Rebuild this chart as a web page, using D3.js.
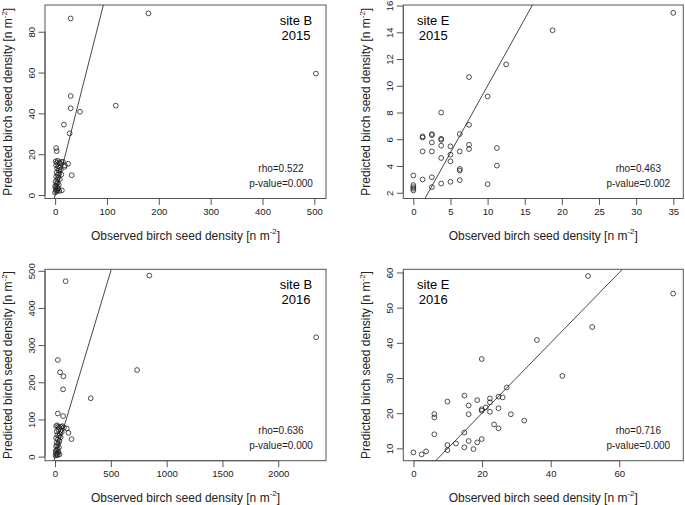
<!DOCTYPE html>
<html><head><meta charset="utf-8">
<script src="https://cdn.jsdelivr.net/npm/d3@7"></script>
<style>
body{margin:0;background:#fff;}
svg{display:block;font-family:"Liberation Sans",Arial,sans-serif;}
</style></head>
<body><svg id="c" width="685" height="505"></svg>
<script>
// ---- data: observed (x) and predicted (y) birch seed density ----
const b2015Obs  = [30,180,503,117,30,30,48,17,28,2,3,25,32,18,15,19,
  1,3,5,8,10,12,2,6,9,4,11,7,3,8,5,12,2,6,4,9,1,5,3,7,2,0,4,6,1,3,5,2,8,13,0];
const b2015Pred = [86.5,89,59.5,43.8,48.5,42.5,40.8,34.5,30.2,23,21.5,15.3,9.7,13.8,16.3,14.5,
  16.5,15.8,16.8,16,15.5,16.2,14.5,14,13.5,13,12.5,12,11,10.5,10,10,9,8.5,7.5,7.8,6.5,6,5.5,5,4.5,4.2,3.8,3.2,3,2.5,2.2,1.8,2,2.3,1.2];

const e2015Obs  = [0,0,0,0,0, 1.25,1.25,1.25,1.25, 2.5,2.5,2.5,2.5,2.5,2.5,
  3.75,3.75,3.75,3.75,3.75,3.75, 5,5,5,5, 6.25,6.25,6.25,6.25,6.25,
  7.5,7.5,7.5,7.5, 10,10, 11.25,11.25, 12.5, 18.75, 35];
const e2015Pred = [3.29,2.57,2.42,2.3,2.17, 6.21,6.13,5.09,2.99, 6.39,6.31,5.76,5.09,3.16,2.42,
  8.0,6.04,5.96,5.52,4.6,2.69, 5.47,4.85,4.35,2.82, 6.39,5.09,3.78,3.66,2.94,
  10.65,7.08,5.59,5.27, 9.2,2.64, 5.35,4.03, 11.6, 14.15, 15.45];

const b2016Obs  = [95,845,2340,735,320,25,45,75,72,25,72,148,120,105,
  10,20,30,40,55,65,80,30,50,15,60,40,20,35,50,10,25,40,15,30,20,10,35,25,15,5,30,20,10,40,25,15,5];
const b2016Pred = [472,487,321,233,157,260,227,216,181,116,109,47,64,76,
  82,84,80,78,80,82,78,72,70,68,66,62,58,55,52,50,46,42,38,35,30,28,25,20,18,15,12,10,8,6,5,4,3];

const e2016Obs  = [0,2.4,3.7,6.1,6.1,6.1,9.9,9.9,9.9,12.4,14.85,14.85,14.85,16.1,16.1,16.1,17.5,18.6,18.6,
  19.9,19.9,19.9,19.9,21.1,22.3,22.3,22.3,23.5,24.8,24.8,24.8,26,27.2,28.4,32.3,36,43.4,50.9,52.1,75.7];
const e2016Pred = [8.86,8.3,9.15,14,19.75,18.8,23.3,10.95,9.5,11.4,25,14.5,10.3,22.2,19.7,12.1,9.8,23.7,11.7,
  35.4,21.1,20.7,12.65,21.65,24.2,23.1,20.4,16.8,24.7,21.4,15.7,24.5,27.3,19.7,17.9,40.8,30.6,59,44.5,54];

const siteLabels = ["site B","site E","site B","site E"];
const yearLabels = ["2015","2015","2016","2016"];
const rhoLabels  = ["rho=0.522","rho=0.463","rho=0.636","rho=0.716"];
const pLabels    = ["p-value=0.000","p-value=0.002","p-value=0.000","p-value=0.000"];

const xTicks = [[0,100,200,300,400,500],[0,5,10,15,20,25,30,35],[0,500,1000,1500,2000],[0,20,40,60]];
const yTicks = [[0,20,40,60,80],[2,4,6,8,10,12,14,16],[0,100,200,300,400,500],[10,20,30,40,50,60]];
const xDomains = [[-19.5,522.5],[-1.35,36.35],[-90,2428],[-2.95,78.65]];
const yDomains = [[-1.7,93.1],[1.57,16.04],[-11,504],[6.5,60.9]];

const obsSets  = [b2015Obs,e2015Obs,b2016Obs,e2016Obs];
const predSets = [b2015Pred,e2015Pred,b2016Pred,e2016Pred];

// ---- layout ----
const boxes = [
  {l:45,   r:326,   t:5,     b:198.5, labelLeft:false},
  {l:403.3,r:683.3, t:5,     b:198.5, labelLeft:true},
  {l:45,   r:326,   t:269.3, b:460.7, labelLeft:false},
  {l:403.3,r:683.3, t:269.3, b:460.7, labelLeft:true}
];

const svg = d3.select("#c");
const ink = "#222", frame = "#555";

function addUnitTitle(sel, main){
  sel.text(main);
  sel.append("tspan").attr("font-size",8).attr("dy",-4.5).text("-2");
  sel.append("tspan").attr("dy",4.5).text("]");
}

boxes.forEach((bx,i)=>{
  const g = svg.append("g");
  const x = d3.scaleLinear().domain(xDomains[i]).range([bx.l,bx.r]);
  const y = d3.scaleLinear().domain(yDomains[i]).range([bx.b,bx.t]);

  // x axis
  const xa = g.append("g").attr("transform",`translate(0,${bx.b})`)
    .call(d3.axisBottom(x).tickValues(xTicks[i]).tickSize(6.5).tickPadding(3).tickFormat(d3.format("d")));
  xa.select(".domain").attr("d",`M${x(xTicks[i][0])},0H${x(xTicks[i][xTicks[i].length-1])}`).attr("stroke",frame);
  xa.selectAll(".tick line").attr("stroke",frame);
  xa.selectAll(".tick text").attr("font-size",9.6).attr("fill",ink);
  xa.attr("font-family",null);

  // y axis
  const ya = g.append("g").attr("transform",`translate(${bx.l},0)`)
    .call(d3.axisLeft(y).tickValues(yTicks[i]).tickSize(6.5).tickFormat(d3.format("d")));
  ya.select(".domain").attr("d",`M0,${y(yTicks[i][0])}V${y(yTicks[i][yTicks[i].length-1])}`).attr("stroke",frame);
  ya.selectAll(".tick line").attr("stroke",frame);
  ya.selectAll(".tick text").attr("font-size",9.6).attr("fill",ink)
    .attr("x",0).attr("dy",0).attr("text-anchor","middle").attr("dominant-baseline","central")
    .attr("transform","translate(-14,0) rotate(-90)");
  ya.attr("font-family",null);

  // frame
  g.append("rect").attr("x",bx.l).attr("y",bx.t).attr("width",bx.r-bx.l).attr("height",bx.b-bx.t)
    .attr("fill","none").attr("stroke",frame).attr("stroke-width",1);

  // 1:1 line clipped to the plot region
  const cid = "clip"+i;
  svg.append("clipPath").attr("id",cid).append("rect")
    .attr("x",bx.l).attr("y",bx.t).attr("width",bx.r-bx.l).attr("height",bx.b-bx.t);
  const lo = Math.max(xDomains[i][0],yDomains[i][0]);
  const hi = Math.min(xDomains[i][1],yDomains[i][1]);
  g.append("path").attr("clip-path",`url(#${cid})`)
    .attr("d",d3.line()([[x(lo),y(lo)],[x(hi),y(hi)]]))
    .attr("stroke","#333").attr("stroke-width",0.9).attr("fill","none");

  // points
  g.selectAll("circle.p").data(obsSets[i].map((v,k)=>[v,predSets[i][k]])).join("circle")
    .attr("class","p").attr("cx",d=>x(d[0])).attr("cy",d=>y(d[1])).attr("r",2.4)
    .attr("fill","none").attr("stroke",ink).attr("stroke-width",0.8);

  // axis titles
  addUnitTitle(g.append("text").attr("x",(bx.l+bx.r)/2).attr("y",bx.b+37)
    .attr("text-anchor","middle").attr("dominant-baseline","central")
    .attr("font-size",12).attr("fill",ink), "Observed birch seed density [n m");
  addUnitTitle(g.append("text").attr("transform",`translate(${bx.l-37},${(bx.t+bx.b)/2}) rotate(-90)`)
    .attr("text-anchor","middle").attr("dominant-baseline","central")
    .attr("font-size",12).attr("fill",ink), "Predicted birch seed density [n m");

  // site / year label
  const sx = bx.labelLeft ? bx.l+30 : bx.r-30;
  g.append("text").attr("x",sx).attr("y",bx.t+15.5).attr("text-anchor","middle")
    .attr("dominant-baseline","central").attr("font-size",13).attr("fill","#000").text(siteLabels[i]);
  g.append("text").attr("x",sx).attr("y",bx.t+30).attr("text-anchor","middle")
    .attr("dominant-baseline","central").attr("font-size",13).attr("fill","#000").text(yearLabels[i]);

  // statistics
  g.append("text").attr("x",bx.r-45).attr("y",bx.b-30.5).attr("text-anchor","middle")
    .attr("dominant-baseline","central").attr("font-size",10).attr("fill",ink).text(rhoLabels[i]);
  g.append("text").attr("x",bx.r-45).attr("y",bx.b-15.5).attr("text-anchor","middle")
    .attr("dominant-baseline","central").attr("font-size",10).attr("fill",ink).text(pLabels[i]);
});
</script></body></html>
